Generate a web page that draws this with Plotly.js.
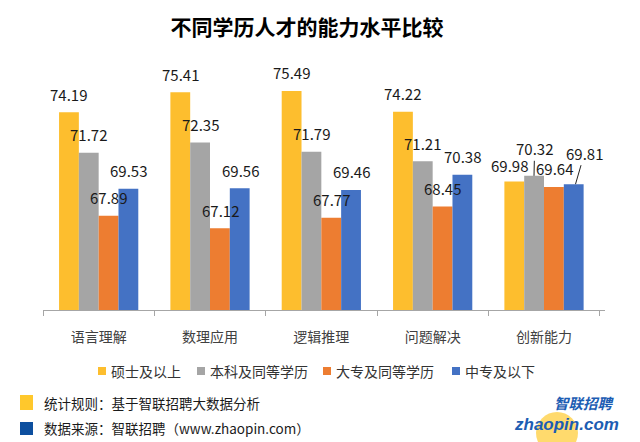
<!DOCTYPE html>
<html>
<head>
<meta charset="utf-8">
<script src="https://cdn.plot.ly/plotly-3.0.1.min.js"></script>
<style>html,body{margin:0;padding:0;background:#fff;}#chart{width:640px;height:442px;}</style>
</head>
<body>
<div id="chart"></div>
<script>
// ---- data ----
const categories = ["语言理解", "数理应用", "逻辑推理", "问题解决", "创新能力"];
const seriesNames = ["硕士及以上", "本科及同等学历", "大专及同等学历", "中专及以下"];
const master   = [74.19, 75.41, 75.49, 74.22, 69.98];
const bachelor = [71.72, 72.35, 71.79, 71.21, 70.32];
const college  = [67.89, 67.12, 67.77, 68.45, 69.64];
const vocational = [69.53, 69.56, 69.46, 70.38, 69.81];
const titleText = "不同学历人才的能力水平比较";
const noteRule = "统计规则：基于智联招聘大数据分析";
const noteSource = "数据来源：智联招聘（www.zhaopin.com）";

// ---- style ----
const seriesValues = [master, bachelor, college, vocational];
const colors = ["#FDBE2E", "#A5A5A5", "#ED7D31", "#4472C4"];
const FONT = "'Noto Sans CJK SC', 'Noto Sans', sans-serif";
const L = 43, R = 35, T = 80, B = 132, W = 640, H = 442;
const PW = W - L - R, PH = H - T - B;
const px = v => (v - L) / PW;          // pixel -> paper x
const py = v => (H - B - v) / PH;      // pixel -> paper y
const barOffsets = [-30, -10, 10, 30];

const traces = seriesValues.map((vals, i) => ({
  type: "bar",
  name: seriesNames[i],
  x: categories,
  y: vals,
  marker: {color: colors[i], line: {width: 0}},
  hoverinfo: "x+y+name"
}));

// data labels
const annotations = [];
// special placement for the last category (crowded labels)
const lastCat = categories.length - 1;
const lastLabelStyle = [
  {xshift: -35, yshift: 15.5},
  {xshift: -10, arrow: true, ax: 0.6, ay: -27},
  {xshift: 10.5, yshift: 18},
  {xshift: 31.5, arrow: true, ax: 9, ay: -31}
];
seriesValues.forEach((vals, i) => {
  vals.forEach((v, j) => {
    const a = {
      x: categories[j], y: v, xref: "x", yref: "y",
      text: v.toFixed(2),
      font: {family: FONT, size: 15, color: "#1a1a1a"},
      showarrow: false, xanchor: "center", yanchor: "middle",
      xshift: barOffsets[i], yshift: 18
    };
    if (j === lastCat) {
      const s = lastLabelStyle[i];
      a.xshift = s.xshift;
      if (s.arrow) {
        a.showarrow = true; a.arrowhead = 0; a.arrowwidth = 1; a.arrowcolor = "#222";
        a.ax = s.ax; a.ay = s.ay; a.standoff = 0; a.startstandoff = 0;
        a.yshift = 0;
      } else {
        a.yshift = s.yshift;
      }
    }
    annotations.push(a);
  });
});

// custom compact legend
const legendSq = [98, 197, 323, 452];
const shapes = [];
seriesNames.forEach((n, i) => {
  shapes.push({type: "rect", xref: "paper", yref: "paper",
    x0: px(legendSq[i]), x1: px(legendSq[i] + 8), y0: py(375), y1: py(367),
    fillcolor: colors[i], line: {width: 0}});
  annotations.push({xref: "paper", yref: "paper", x: px(legendSq[i] + 11), y: py(371),
    xanchor: "left", yanchor: "middle", showarrow: false, text: n,
    font: {family: FONT, size: 14, color: "#333333"}});
});

// footer notes
shapes.push({type: "rect", xref: "paper", yref: "paper", x0: px(20), x1: px(33), y0: py(410), y1: py(395),
  fillcolor: "#FFC82C", line: {width: 0}});
shapes.push({type: "rect", xref: "paper", yref: "paper", x0: px(20), x1: px(33), y0: py(435), y1: py(422),
  fillcolor: "#0D4F9F", line: {width: 0}});
annotations.push({xref: "paper", yref: "paper", x: px(42), y: py(403), xanchor: "left", yanchor: "middle",
  showarrow: false, text: noteRule, font: {family: FONT, size: 13.5, color: "#1a1a1a"}});
annotations.push({xref: "paper", yref: "paper", x: px(42), y: py(428), xanchor: "left", yanchor: "middle",
  showarrow: false, text: noteSource, font: {family: FONT, size: 13.5, color: "#1a1a1a"}});

// logo
shapes.push({type: "circle", xref: "paper", yref: "paper", layer: "below",
  x0: px(536), x1: px(578), y0: py(454), y1: py(412),
  fillcolor: "rgba(255,206,60,0.75)", line: {width: 0}});
annotations.push({xref: "paper", yref: "paper", x: px(584), y: py(402), xanchor: "center", yanchor: "middle",
  showarrow: false, text: "智联招聘",
  font: {family: FONT, size: 14.5, color: "#1C5DB3", weight: "bold", style: "italic"}});
annotations.push({xref: "paper", yref: "paper", x: px(566), y: py(424), xanchor: "center", yanchor: "middle",
  showarrow: false, text: "zhaopin.com",
  font: {family: "'Liberation Sans', Arial, sans-serif", size: 17, color: "#1C5DB3", weight: "bold", style: "italic"}});

const layout = {
  width: W, height: H,
  margin: {l: L, r: R, t: T, b: B, pad: 0},
  paper_bgcolor: "#ffffff", plot_bgcolor: "rgba(0,0,0,0)",
  font: {family: FONT, color: "#404040"},
  title: {text: titleText, xref: "container", yref: "container", x: 307 / W, y: 1 - 28 / H,
    xanchor: "center", yanchor: "middle",
    font: {family: FONT, size: 21, color: "#000", weight: "bold"}},
  barmode: "group",
  bargap: 1 - 80 / (PW / categories.length),
  bargroupgap: 0,
  showlegend: false,
  xaxis: {
    type: "category",
    showline: true, linecolor: "#A6A6A6", linewidth: 1,
    ticks: "outside", tickson: "boundaries", ticklen: 5, tickcolor: "#A6A6A6", tickwidth: 1,
    ticklabelstandoff: 14,
    tickfont: {family: FONT, size: 14, color: "#404040"},
    showgrid: false, zeroline: false, fixedrange: true
  },
  yaxis: {
    range: [62.14, 76.16],
    visible: false, showgrid: false, zeroline: false, fixedrange: true
  },
  shapes: shapes,
  annotations: annotations
};

Plotly.newPlot("chart", traces, layout, {displayModeBar: false, staticPlot: true});
</script>
</body>
</html>
